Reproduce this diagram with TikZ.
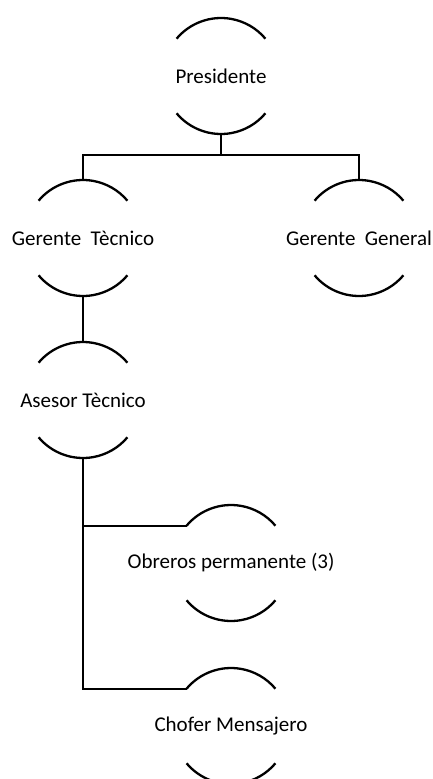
\documentclass[tikz,border=0pt]{standalone}
\usepackage{fontspec}
\setmainfont{Carlito}
\tikzset{
  arcline/.style={line width=2.3pt},
  conn/.style={line width=2.3pt},
  lbl/.style={inner sep=0pt, font=\fontsize{21}{25}\selectfont},
  unit/.pic={
    \draw[arcline] (140:58pt) arc[start angle=140,end angle=40,radius=58pt];
    \draw[arcline] (220:58pt) arc[start angle=220,end angle=320,radius=58pt];
    \coordinate (-t) at (0,58pt);
    \coordinate (-b) at (0,-58pt);
    \coordinate (-tl) at (140:58pt);
  }
}
\begin{document}
\begin{tikzpicture}[x=1pt,y=-1pt]
\fill[white] (0,0) rectangle (433,779);
\useasboundingbox (0,0) rectangle (433,779);
% units
\pic (p) at (221,76) {unit};
\node[lbl] (pn) at (221,76) {Presidente};
\pic (gt) at (83,238) {unit};
\node[lbl] (gtn) at (83,238) {Gerente\ \ Tècnico};
\pic (gg) at (359,238) {unit};
\node[lbl] (ggn) at (359,238) {Gerente\ \ General};
\pic (at) at (83,400) {unit};
\node[lbl] (atn) at (83,400) {Asesor Tècnico};
\pic (ob) at (231,563) {unit};
\node[lbl] (obn) at (231,563) {Obreros permanente (3)};
\pic (ch) at (231,726) {unit};
\node[lbl] (chn) at (231,726) {Chofer Mensajero};
% connectors
\coordinate (bus) at (0,155);
\draw[conn] (p-b) -- (p-b |- bus);
\draw[conn] (gt-t) -- (gt-t |- bus) -- (gg-t |- bus) -- (gg-t);
\draw[conn] (gt-b) -- (at-t);
\draw[conn] (at-b) |- (ch-tl);
\draw[conn] (at-b |- ob-tl) -- (ob-tl);
\end{tikzpicture}
\end{document}
